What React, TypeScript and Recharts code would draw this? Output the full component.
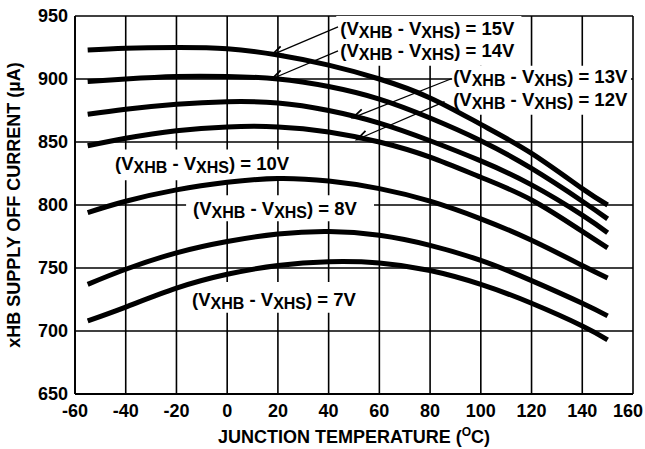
import React from "react";
import {
  LineChart,
  Line,
  XAxis,
  YAxis,
  CartesianGrid,
  ReferenceArea,
  ReferenceLine,
} from "recharts";

// junction temperature (°C) where each curve is sampled
const temps = [-55, -40, -20, 0, 20, 40, 60, 80, 100, 120, 140, 150];

// xHB supply off current (µA) for each (VXHB - VXHS)
const v15 = [923, 924.5, 925, 924, 919, 911, 900, 885, 864, 841, 813, 800];
const v14 = [898, 900, 902, 902, 900, 894, 884, 869, 851, 829, 803, 789];
const v13 = [872, 876, 880, 882, 881, 875, 865, 851, 835, 816, 792, 778];
const v12 = [847, 853, 859, 862, 862, 858, 850, 838, 822, 804, 779, 766];
const v10 = [794, 803, 812, 818, 821, 819, 813, 803, 789, 772, 752, 742];
const v8 = [737, 749, 762, 771, 777, 779, 776, 768, 756, 740, 722, 712];
const v7 = [708, 719, 734, 745, 752, 755, 754, 748, 737, 722, 704, 693];

const xTicks = [-60, -40, -20, 0, 20, 40, 60, 80, 100, 120, 140, 160];
const yTicks = [650, 700, 750, 800, 850, 900, 950];

const data = temps.map((t, i) => ({
  t,
  v15: v15[i],
  v14: v14[i],
  v13: v13[i],
  v12: v12[i],
  v10: v10[i],
  v8: v8[i],
  v7: v7[i],
}));

const series = ["v15", "v14", "v13", "v12", "v10", "v8", "v7"];

const FONT = "'Liberation Sans', Arial, Helvetica, sans-serif";

const txt = {
  fontFamily: FONT,
  fontWeight: 700,
  fontSize: 18,
  fill: "#000",
};

function VLabel({ x, y, volts }: { x: number; y: number; volts: number }) {
  return (
    <text x={x} y={y} {...txt} fontSize={18.5}>
      <tspan>(V</tspan>
      <tspan fontSize={16} dy={3}>XHB</tspan>
      <tspan dy={-3}> - V</tspan>
      <tspan fontSize={16} dy={3}>XHS</tspan>
      <tspan dy={-3}>{`) = ${volts}V`}</tspan>
    </text>
  );
}

function BoxLabel(props: any) {
  const vb = props.viewBox || { x: 0, y: 0 };
  const rows = props.rows as { volts: number; dx: number; dy: number }[];
  return (
    <g>
      {rows.map((r) => (
        <VLabel key={r.volts} x={vb.x + r.dx} y={vb.y + r.dy} volts={r.volts} />
      ))}
    </g>
  );
}

function Arrow(props: any) {
  const { x1, y1, x2, y2 } = props;
  const a = Math.atan2(y2 - y1, x2 - x1);
  const L = 12;
  const th = 0.38;
  const p1 = [x2 - L * Math.cos(a - th), y2 - L * Math.sin(a - th)];
  const p2 = [x2 - L * Math.cos(a + th), y2 - L * Math.sin(a + th)];
  return (
    <g>
      <line x1={x1} y1={y1} x2={x2} y2={y2} stroke="#000" strokeWidth={1.3} />
      <polyline
        points={`${p1[0]},${p1[1]} ${x2},${y2} ${p2[0]},${p2[1]}`}
        fill="none"
        stroke="#000"
        strokeWidth={1.8}
      />
    </g>
  );
}

function XTick(props: any) {
  const { x, y, payload } = props;
  // keep the last label inside the picture, as in the reference
  const cx = Math.min(x, 628);
  return (
    <text x={cx} y={y} dy="0.71em" textAnchor="middle" {...txt}>
      {payload.value}
    </text>
  );
}

function XTitle(props: any) {
  const vb = props.viewBox || { x: 75, y: 394, width: 558 };
  return (
    <text x={vb.x + vb.width / 2} y={vb.y + 49} textAnchor="middle" {...txt}>
      JUNCTION TEMPERATURE (
      <tspan fontSize={12} dy={-7}>O</tspan>
      <tspan dy={7}>C)</tspan>
    </text>
  );
}

function YTitle(props: any) {
  const vb = props.viewBox || { x: 0, y: 16, height: 378 };
  const cx = vb.x + 14;
  const cy = vb.y + vb.height / 2;
  return (
    <text
      x={cx}
      y={cy}
      transform={`rotate(-90, ${cx}, ${cy})`}
      textAnchor="middle"
      dominantBaseline="central"
      {...txt}
    >
      xHB SUPPLY OFF CURRENT (µA)
    </text>
  );
}

export default function App() {
  return (
    <div style={{ position: "absolute", left: 0, top: 0, width: 645, height: 449, background: "#fff" }}>
      <LineChart
        width={645}
        height={449}
        data={data}
        margin={{ top: 16, right: 12, bottom: 0, left: 0 }}
      >
        <CartesianGrid stroke="#000" strokeWidth={1.6} />
        <XAxis
          dataKey="t"
          type="number"
          domain={[-60, 160]}
          ticks={xTicks}
          interval={0}
          tickSize={0}
          tickMargin={10}
          height={55}
          axisLine={{ stroke: "#000", strokeWidth: 1.8 }}
          tickLine={false}
          tick={<XTick />}
          label={<XTitle />}
        />
        <YAxis
          type="number"
          domain={[650, 950]}
          ticks={yTicks}
          interval={0}
          tickSize={0}
          tickMargin={7}
          width={75}
          axisLine={{ stroke: "#000", strokeWidth: 1.8 }}
          tickLine={false}
          tick={txt}
          label={<YTitle />}
        />

        <ReferenceArea
          x1={43}
          x2={116}
          y1={910.5}
          y2={950}
          fill="#fff"
          fillOpacity={1}
          stroke="none"
          label={<BoxLabel rows={[{ volts: 15, dx: 4, dy: 19 }, { volts: 14, dx: 4, dy: 40.7 }]} />}
        />
        <ReferenceArea
          x1={88.7}
          x2={159.2}
          y1={871.7}
          y2={910.5}
          fill="#fff"
          fillOpacity={1}
          stroke="none"
          label={<BoxLabel rows={[{ volts: 13, dx: 1, dy: 17.3 }, { volts: 12, dx: 1, dy: 40 }]} />}
        />
        <ReferenceArea
          x1={-46.2}
          x2={27.5}
          y1={819.6}
          y2={844}
          fill="#fff"
          fillOpacity={1}
          stroke="none"
          label={<BoxLabel rows={[{ volts: 10, dx: 5, dy: 20.7 }]} />}
        />
        <ReferenceArea
          x1={-16.2}
          x2={57.9}
          y1={787.2}
          y2={807.7}
          fill="#fff"
          fillOpacity={1}
          stroke="none"
          label={<BoxLabel rows={[{ volts: 8, dx: 7, dy: 20 }]} />}
        />
        <ReferenceArea
          x1={-16.2}
          x2={54}
          y1={714.4}
          y2={738.9}
          fill="#fff"
          fillOpacity={1}
          stroke="none"
          label={<BoxLabel rows={[{ volts: 7, dx: 6, dy: 24 }]} />}
        />

        {series.map((k) => (
          <Line
            key={k}
            type="natural"
            dataKey={k}
            stroke="#000"
            strokeWidth={5}
            dot={false}
            activeDot={false}
            isAnimationActive={false}
          />
        ))}

        <ReferenceLine segment={[{ x: 43.7, y: 941.3 }, { x: 17.7, y: 919.2 }]} shape={<Arrow />} />
        <ReferenceLine segment={[{ x: 43.7, y: 922.3 }, { x: 17.7, y: 900.2 }]} shape={<Arrow />} />
        <ReferenceLine segment={[{ x: 88.4, y: 900.2 }, { x: 49.6, y: 869.4 }]} shape={<Arrow />} />
        <ReferenceLine segment={[{ x: 85.7, y: 882 }, { x: 51.2, y: 852 }]} shape={<Arrow />} />
      </LineChart>
    </div>
  );
}
